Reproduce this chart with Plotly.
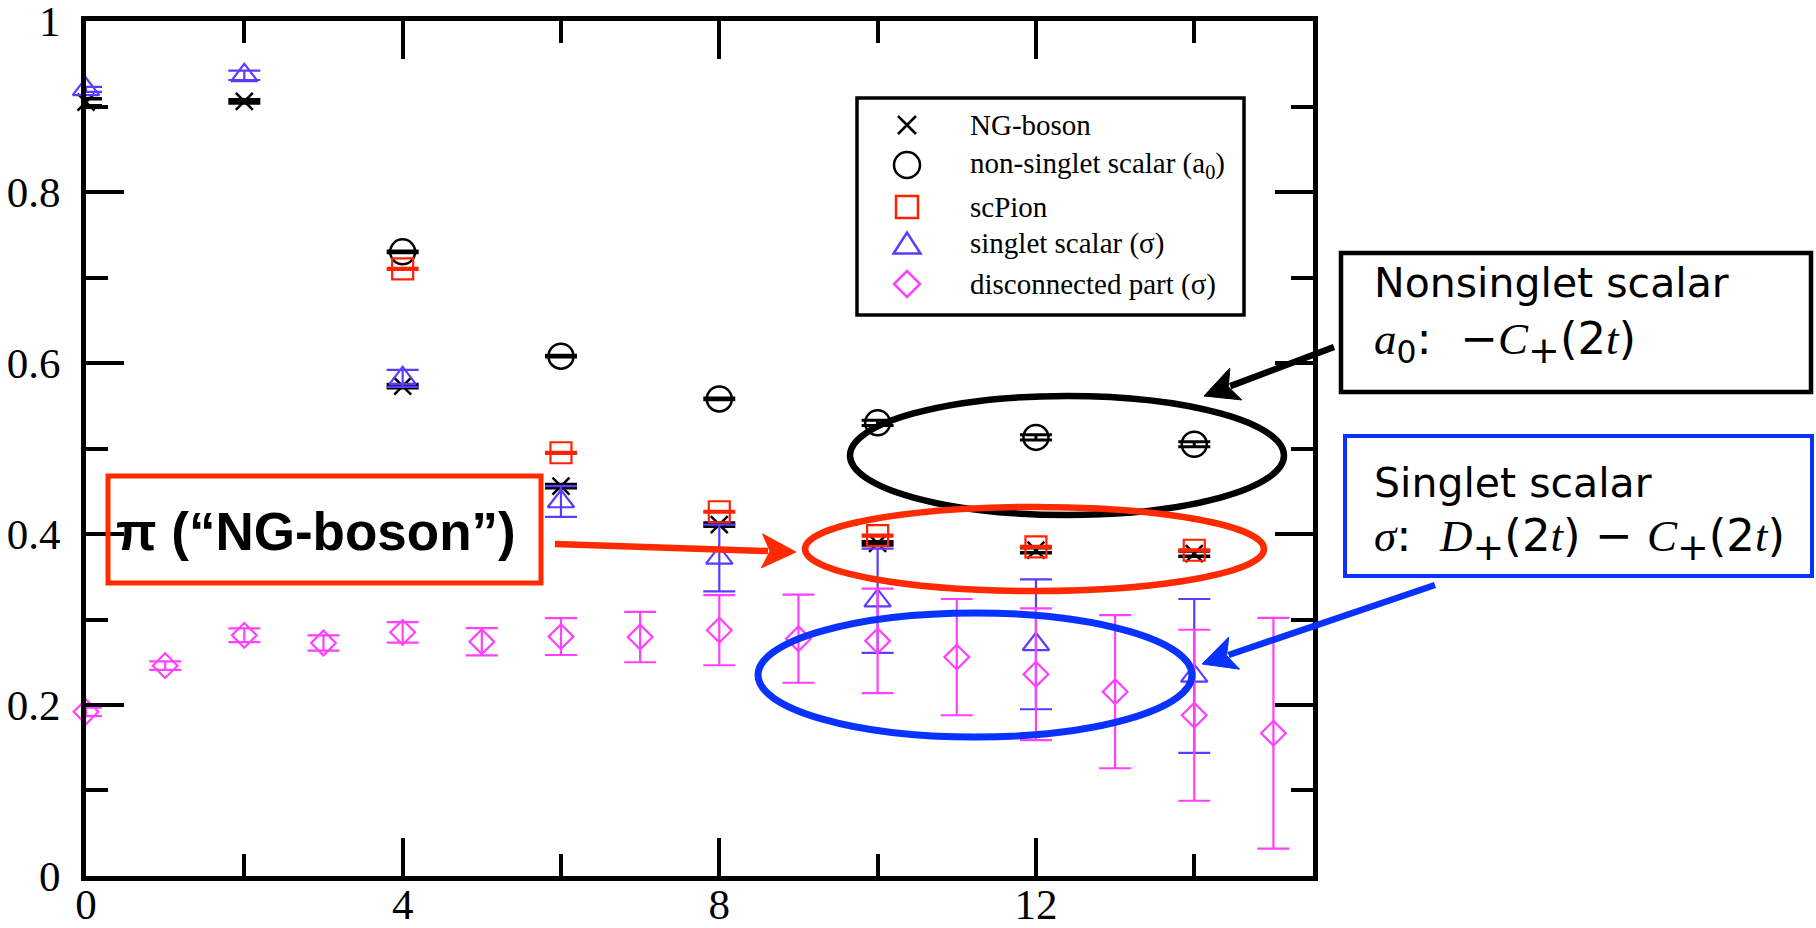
import math
import plotly.graph_objects as go

# ---------------- data ----------------
x_ng = [0, 2, 4, 6, 8, 10, 12, 14]
ng_boson = [0.905, 0.906, 0.573, 0.456, 0.411, 0.389, 0.381, 0.377]
ng_boson_err = [0.004, 0.002, 0.002, 0.002, 0.002, 0.002, 0.003, 0.003]

x_a0 = [4, 6, 8, 10, 12, 14]
a0 = [0.730, 0.608, 0.558, 0.530, 0.513, 0.505]
a0_err = [0.001, 0.001, 0.001, 0.003, 0.003, 0.003]

x_scpion = [4, 6, 8, 10, 12, 14]
scpion = [0.710, 0.495, 0.426, 0.398, 0.385, 0.381]
scpion_err = [0.001, 0.001, 0.001, 0.001, 0.001, 0.001]

x_sigma = [0, 2, 4, 6, 8, 10, 12, 14]
sigma = [0.920, 0.9365, 0.582, 0.438, 0.372, 0.322, 0.271, 0.234]
sigma_err = [0.003, 0.0055, 0.010, 0.018, 0.039, 0.061, 0.076, 0.090]

x_disc = [0, 1, 2, 3, 4, 5, 6, 7, 8, 9, 10, 11, 12, 13, 14, 15]
disc = [0.192, 0.246, 0.2815, 0.2725, 0.285, 0.274, 0.280, 0.2795,
        0.2875, 0.2775, 0.275, 0.256, 0.236, 0.2155, 0.188, 0.167]
disc_err = [0.005, 0.005, 0.008, 0.009, 0.012, 0.016, 0.0215, 0.0295,
            0.041, 0.0515, 0.061, 0.068, 0.077, 0.0895, 0.100, 0.135]

legend_labels = ["NG-boson", "non-singlet scalar (a<sub>0</sub>)", "scPion",
                 "singlet scalar (σ)", "disconnected part (σ)"]

x_ticks = [0, 4, 8, 12]
y_ticks = [0, 0.2, 0.4, 0.6, 0.8, 1]
y_ticktext = ["0", "0.2", "0.4", "0.6", "0.8", "1"]

# ---------------- styling ----------------
W, H = 1816, 928
L, R, T, B = 86, 503, 21, 52
PW, PH = W - L - R, H - T - B

BLACK = "#000000"
RED = "#ff2200"
BLUE = "#5a3cff"
MAGENTA = "#ff40ff"
ANN_RED = "#ff2a00"
ANN_BLUE = "#0a32ff"
SERIF = "Liberation Serif, Times New Roman, serif"
SANS = "DejaVu Sans, sans-serif"


def px(xp):
    return (xp - L) / PW


def py(yp):
    return (H - B - yp) / PH


def series(x, y, err, symbol, color, size, lw, ethick):
    return go.Scatter(
        x=x, y=y, mode="markers", showlegend=False, cliponaxis=False,
        marker=dict(symbol=symbol, size=size, color=color,
                    line=dict(color=color, width=lw)),
        error_y=dict(type="data", array=err, visible=True, color=color,
                     thickness=ethick, width=16),
    )


fig = go.Figure()
fig.add_trace(series(x_ng, ng_boson, ng_boson_err, "x-thin-open", BLACK, 17, 2.5, 3.5))
fig.add_trace(series(x_a0, a0, a0_err, "circle-open", BLACK, 25, 2.5, 3))
fig.add_trace(series(x_scpion, scpion, scpion_err, "square-open", RED, 21, 2.2, 2.5))
fig.add_trace(series(x_sigma, sigma, sigma_err, "triangle-up-open", BLUE, 23, 2.2, 2.2))
fig.add_trace(series(x_disc, disc, disc_err, "diamond-open", MAGENTA, 19, 2.2, 2.2))

shapes = []
annotations = []

# ---------------- legend (manual) ----------------
shapes.append(dict(type="rect", xref="paper", yref="paper",
                   x0=px(857), x1=px(1244), y0=py(98), y1=py(315),
                   line=dict(color=BLACK, width=3.5)))
mx = 907
rows = [125, 165, 207, 243, 284]
a = 9
shapes.append(dict(type="path", xref="paper", yref="paper",
                   path=(f"M{px(mx-a)},{py(rows[0]-a)} L{px(mx+a)},{py(rows[0]+a)} "
                         f"M{px(mx-a)},{py(rows[0]+a)} L{px(mx+a)},{py(rows[0]-a)}"),
                   line=dict(color=BLACK, width=2.5)))
r = 13
shapes.append(dict(type="circle", xref="paper", yref="paper",
                   x0=px(mx-r), x1=px(mx+r), y0=py(rows[1]-r), y1=py(rows[1]+r),
                   line=dict(color=BLACK, width=2.5)))
s = 11
shapes.append(dict(type="rect", xref="paper", yref="paper",
                   x0=px(mx-s), x1=px(mx+s), y0=py(rows[2]-s), y1=py(rows[2]+s),
                   line=dict(color=RED, width=2.5)))
tw, th = 13.5, 21
ty = rows[3]
shapes.append(dict(type="path", xref="paper", yref="paper",
                   path=(f"M{px(mx-tw)},{py(ty+th/2)} L{px(mx+tw)},{py(ty+th/2)} "
                         f"L{px(mx)},{py(ty-th/2)} Z"),
                   line=dict(color=BLUE, width=2.5)))
d = 13
dy = rows[4]
shapes.append(dict(type="path", xref="paper", yref="paper",
                   path=(f"M{px(mx-d)},{py(dy)} L{px(mx)},{py(dy-d)} "
                         f"L{px(mx+d)},{py(dy)} L{px(mx)},{py(dy+d)} Z"),
                   line=dict(color=MAGENTA, width=2.5)))
for lab, ry in zip(legend_labels, rows):
    annotations.append(dict(text=lab, xref="paper", yref="paper", x=px(968), y=py(ry),
                            xanchor="left", yanchor="middle", showarrow=False,
                            font=dict(family=SERIF, size=29, color=BLACK)))

# ---------------- callouts ----------------
shapes.append(dict(type="circle", xref="paper", yref="paper",
                   x0=px(850), x1=px(1284), y0=py(396), y1=py(515),
                   line=dict(color=BLACK, width=6.5)))
shapes.append(dict(type="circle", xref="paper", yref="paper",
                   x0=px(805), x1=px(1264), y0=py(507), y1=py(591),
                   line=dict(color=ANN_RED, width=6.5)))
shapes.append(dict(type="circle", xref="paper", yref="paper",
                   x0=px(758), x1=px(1192), y0=py(613), y1=py(737),
                   line=dict(color=ANN_BLUE, width=7)))
shapes.append(dict(type="rect", xref="paper", yref="paper",
                   x0=px(108), x1=px(541), y0=py(476), y1=py(583),
                   line=dict(color=ANN_RED, width=5)))
shapes.append(dict(type="rect", xref="paper", yref="paper",
                   x0=px(1341), x1=px(1811), y0=py(253), y1=py(392),
                   line=dict(color=BLACK, width=4.5)))
shapes.append(dict(type="rect", xref="paper", yref="paper",
                   x0=px(1345), x1=px(1812), y0=py(436), y1=py(576),
                   line=dict(color=ANN_BLUE, width=4)))


def arrow(tx, ty_, hx, hy, col, width=6.5, lh=34, wh=17, notch=8):
    ddx, ddy = hx - tx, hy - ty_
    dd = math.hypot(ddx, ddy)
    ux, uy = ddx / dd, ddy / dd
    nx, ny = -uy, ux
    bx, by = hx - lh * ux, hy - lh * uy
    p1 = (bx + wh * nx, by + wh * ny)
    p2 = (bx - wh * nx, by - wh * ny)
    nt = (hx - (lh - notch) * ux, hy - (lh - notch) * uy)
    shapes.append(dict(type="line", xref="paper", yref="paper",
                       x0=px(tx), y0=py(ty_), x1=px(nt[0] - 2 * ux), y1=py(nt[1] - 2 * uy),
                       line=dict(color=col, width=width)))
    shapes.append(dict(type="path", xref="paper", yref="paper",
                       path=(f"M{px(hx)},{py(hy)} L{px(p1[0])},{py(p1[1])} "
                             f"L{px(nt[0])},{py(nt[1])} L{px(p2[0])},{py(p2[1])} Z"),
                       fillcolor=col, line=dict(color=col, width=1)))


arrow(555, 544, 796, 552, ANN_RED)
arrow(1334, 347, 1204, 396, BLACK)
arrow(1435, 585, 1202, 664, ANN_BLUE)

# texts
annotations.append(dict(text="<b>π (“NG-boson”)</b>", xref="paper", yref="paper",
                        x=px(114), y=py(531), xanchor="left", yanchor="middle",
                        showarrow=False,
                        font=dict(family="Liberation Sans, Arial, sans-serif", size=53,
                                  color=BLACK)))
annotations.append(dict(text="Nonsinglet scalar", xref="paper", yref="paper",
                        x=px(1372), y=py(283), xanchor="left", yanchor="middle",
                        showarrow=False, font=dict(family=SANS, size=41, color=BLACK)))
it = "<span style='font-family:Liberation Serif;font-style:italic'>"
plus = "<sub><span style='font-size:38px'>+</span></sub>"
annotations.append(dict(text=f"{it}a</span><sub>0</sub>:  −{it}C</span>{plus}(2{it}t</span>)",
                        xref="paper", yref="paper",
                        x=px(1372), y=py(342), xanchor="left", yanchor="middle",
                        showarrow=False, font=dict(family=SANS, size=45, color=BLACK)))
annotations.append(dict(text="Singlet scalar", xref="paper", yref="paper",
                        x=px(1372), y=py(483), xanchor="left", yanchor="middle",
                        showarrow=False, font=dict(family=SANS, size=41, color=BLACK)))
annotations.append(dict(text=f"{it}σ</span>:  {it}D</span>{plus}(2{it}t</span>) − {it}C</span>{plus}(2{it}t</span>)",
                        xref="paper", yref="paper",
                        x=px(1372), y=py(539), xanchor="left", yanchor="middle",
                        showarrow=False, font=dict(family=SANS, size=45, color=BLACK)))

axis_common = dict(showgrid=False, zeroline=False, showline=True, linecolor=BLACK,
                   linewidth=5, mirror="ticks", ticks="inside", ticklen=38,
                   tickwidth=4, tickcolor=BLACK, automargin=False,
                   ticklabeloverflow="allow",
                   tickfont=dict(family=SERIF, size=43, color=BLACK))

fig.update_layout(
    width=W, height=H, margin=dict(l=L, r=R, t=T, b=B, pad=0, autoexpand=False),
    paper_bgcolor="white", plot_bgcolor="white", showlegend=False,
    shapes=shapes, annotations=annotations,
    xaxis=dict(range=[0, 15.5], tickmode="array", tickvals=x_ticks,
               ticktext=[str(v) for v in x_ticks], ticklabelstandoff=-14,
               minor=dict(dtick=2, tick0=0, ticks="inside", ticklen=22, tickwidth=4,
                          tickcolor=BLACK, showgrid=False),
               **axis_common),
    yaxis=dict(range=[-0.00001, 1.00001], tickmode="array", tickvals=y_ticks,
               ticktext=y_ticktext, ticklabelstandoff=12,
               minor=dict(dtick=0.1, tick0=0, ticks="inside", ticklen=22, tickwidth=4,
                          tickcolor=BLACK, showgrid=False),
               **axis_common),
)

fig.write_html("out.html")
